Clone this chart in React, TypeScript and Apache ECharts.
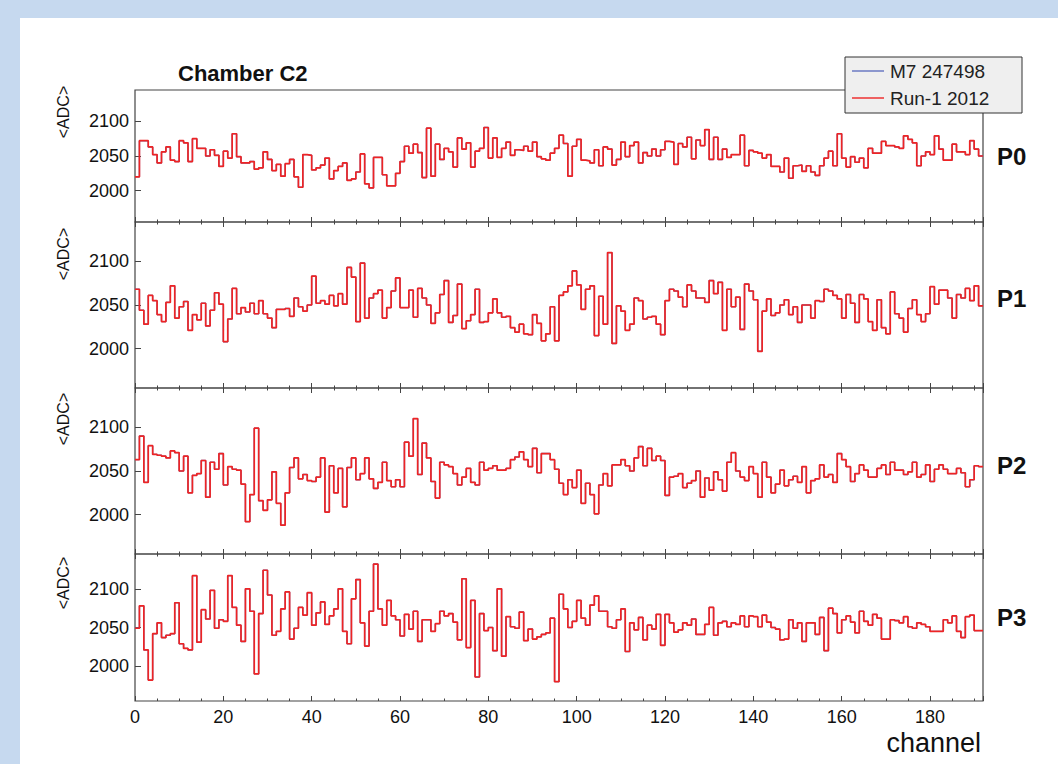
import React, { useEffect, useRef } from "react";
import * as echarts from "echarts";

const FONT = '"Liberation Sans", Arial, Helvetica, sans-serif';

// Mean ADC per channel, Chamber C2, planes P0..P3 (Run-1 2012)
const run1P0 = [
  2020, 2072, 2072, 2063, 2052, 2040, 2056, 2063, 2044, 2042,
  2072, 2069, 2042, 2075, 2061, 2061, 2050, 2059, 2051, 2035,
  2057, 2047, 2082, 2049, 2040, 2040, 2042, 2031, 2033, 2056,
  2045, 2029, 2038, 2021, 2039, 2045, 2020, 2005, 2052, 2051,
  2030, 2033, 2037, 2047, 2017, 2029, 2035, 2040, 2015, 2017,
  2027, 2053, 2010, 2004, 2048, 2048, 2023, 2007, 2007, 2025,
  2042, 2064, 2054, 2067, 2055, 2019, 2090, 2021, 2067, 2045,
  2061, 2056, 2034, 2076, 2060, 2069, 2034, 2057, 2061, 2091,
  2047, 2076, 2048, 2061, 2070, 2051, 2059, 2058, 2064, 2057,
  2070, 2049, 2046, 2044, 2054, 2061, 2080, 2068, 2021, 2064,
  2074, 2044, 2043, 2040, 2059, 2036, 2063, 2060, 2037, 2045,
  2070, 2049, 2065, 2070, 2040, 2055, 2050, 2060, 2050, 2059,
  2071, 2070, 2038, 2068, 2063, 2077, 2046, 2073, 2065, 2088,
  2045, 2077, 2045, 2060, 2048, 2052, 2052, 2080, 2036, 2058,
  2056, 2054, 2047, 2052, 2035, 2035, 2027, 2047, 2018, 2036,
  2037, 2028, 2036, 2027, 2022, 2036, 2047, 2057, 2036, 2082,
  2047, 2034, 2049, 2041, 2047, 2033, 2061, 2054, 2054, 2071,
  2065, 2065, 2063, 2061, 2079, 2074, 2069, 2036, 2050, 2056,
  2052, 2079, 2060, 2044, 2044, 2067, 2056, 2056, 2052, 2072,
  2060, 2050,
];
const run1P1 = [
  2068, 2044, 2028, 2061, 2055, 2039, 2031, 2053, 2072, 2035,
  2048, 2054, 2021, 2039, 2033, 2052, 2026, 2044, 2064, 2051,
  2008, 2034, 2069, 2040, 2047, 2042, 2052, 2040, 2055, 2040,
  2035, 2024, 2045, 2045, 2046, 2037, 2058, 2048, 2043, 2050,
  2083, 2052, 2055, 2051, 2061, 2049, 2063, 2051, 2093, 2082,
  2031, 2098, 2035, 2058, 2063, 2067, 2035, 2047, 2066, 2081,
  2047, 2047, 2067, 2036, 2069, 2058, 2050, 2029, 2041, 2062,
  2078, 2030, 2038, 2074, 2023, 2032, 2039, 2068, 2030, 2031,
  2041, 2057, 2041, 2036, 2037, 2024, 2019, 2028, 2017, 2016,
  2039, 2029, 2009, 2017, 2048, 2009, 2061, 2065, 2072, 2089,
  2073, 2045, 2068, 2072, 2015, 2060, 2028, 2110, 2006, 2049,
  2043, 2021, 2028, 2058, 2055, 2034, 2036, 2037, 2028, 2016,
  2055, 2068, 2066, 2059, 2048, 2073, 2066, 2058, 2058, 2053,
  2078, 2063, 2076, 2021, 2068, 2048, 2059, 2022, 2074, 2066,
  2056, 1997, 2043, 2057, 2038, 2041, 2050, 2056, 2039, 2048,
  2030, 2050, 2050, 2035, 2055, 2054, 2068, 2066, 2061, 2057,
  2035, 2062, 2052, 2030, 2062, 2057, 2031, 2021, 2056, 2024,
  2017, 2065, 2040, 2035, 2019, 2046, 2056, 2039, 2031, 2040,
  2071, 2051, 2067, 2067, 2058, 2035, 2062, 2058, 2069, 2055,
  2072, 2049,
];
const run1P2 = [
  2063, 2090, 2037, 2079, 2069, 2068, 2067, 2065, 2073, 2071,
  2050, 2067, 2025, 2045, 2047, 2062, 2020, 2060, 2052, 2070,
  2034, 2055, 2052, 2051, 2035, 1992, 2023, 2099, 2016, 2005,
  2017, 2049, 2013, 1988, 2025, 2054, 2065, 2041, 2046, 2039,
  2038, 2043, 2065, 2003, 2056, 2025, 2053, 2009, 2054, 2065,
  2040, 2047, 2065, 2041, 2030, 2037, 2060, 2039, 2032, 2040,
  2032, 2083, 2067, 2110, 2046, 2082, 2065, 2038, 2019, 2060,
  2057, 2055, 2047, 2034, 2043, 2053, 2037, 2034, 2060, 2051,
  2053, 2056, 2051, 2051, 2053, 2063, 2066, 2072, 2063, 2055,
  2076, 2048, 2070, 2070, 2063, 2052, 2036, 2023, 2040, 2031,
  2051, 2013, 2036, 2023, 2001, 2034, 2047, 2033, 2057, 2057,
  2063, 2056, 2050, 2065, 2078, 2056, 2076, 2062, 2067, 2062,
  2022, 2043, 2044, 2047, 2031, 2036, 2039, 2050, 2020, 2042,
  2028, 2049, 2040, 2027, 2060, 2071, 2050, 2043, 2039, 2055,
  2047, 2020, 2060, 2043, 2025, 2035, 2051, 2033, 2040, 2044,
  2037, 2055, 2025, 2039, 2041, 2057, 2043, 2046, 2037, 2070,
  2063, 2055, 2038, 2047, 2057, 2051, 2043, 2043, 2053, 2057,
  2046, 2060, 2051, 2051, 2046, 2049, 2060, 2043, 2046, 2057,
  2038, 2052, 2057, 2052, 2047, 2047, 2053, 2048, 2032, 2040,
  2056, 2055,
];
const run1P3 = [
  2049, 2078, 2021, 1982, 2042, 2056, 2037, 2040, 2042, 2082,
  2029, 2023, 2021, 2117, 2031, 2073, 2061, 2098, 2049, 2060,
  2058, 2117, 2076, 2053, 2032, 2100, 2071, 1990, 2068, 2124,
  2092, 2040, 2045, 2074, 2096, 2035, 2049, 2076, 2066, 2095,
  2053, 2069, 2083, 2054, 2065, 2074, 2100, 2045, 2029, 2087,
  2112, 2056, 2026, 2071, 2132, 2074, 2053, 2085, 2065, 2060,
  2039, 2067, 2048, 2071, 2032, 2060, 2060, 2045, 2055, 2071,
  2065, 2068, 2057, 2034, 2113, 2024, 2085, 1986, 2068, 2046,
  2050, 2020, 2100, 2013, 2064, 2051, 2049, 2070, 2033, 2048,
  2035, 2038, 2041, 2043, 2062, 1980, 2093, 2074, 2050, 2058,
  2085, 2062, 2053, 2079, 2091, 2071, 2071, 2051, 2049, 2060,
  2074, 2019, 2056, 2047, 2063, 2034, 2053, 2048, 2067, 2027,
  2067, 2056, 2044, 2047, 2056, 2053, 2061, 2041, 2041, 2054,
  2076, 2040, 2056, 2058, 2051, 2056, 2054, 2065, 2051, 2065,
  2064, 2051, 2066, 2057, 2050, 2048, 2034, 2035, 2060, 2049,
  2056, 2032, 2056, 2056, 2041, 2063, 2020, 2075, 2068, 2043,
  2060, 2065, 2057, 2043, 2071, 2058, 2053, 2067, 2062, 2035,
  2035, 2060, 2059, 2056, 2064, 2051, 2049, 2056, 2054, 2051,
  2045, 2045, 2045, 2060, 2056, 2065, 2045, 2037, 2064, 2066,
  2046, 2046,
];

// M7 247498 overlaps Run-1 2012 within the drawing resolution
const m7P0 = run1P0;
const m7P1 = run1P1;
const m7P2 = run1P2;
const m7P3 = run1P3;

const panelNames = ["P0", "P1", "P2", "P3"];
const seriesNames = ["M7 247498", "Run-1 2012"];
const yTickValues = [2000, 2050, 2100];
const xMax = 192;
const yMin = 1955;
const yMax = 2145;

const BLUE = "#6272c0";
const RED = "#ee2424";
const FRAME = "#444";

const gridRects = [
  { top: 90, height: 132 },
  { top: 222, height: 166 },
  { top: 388, height: 166 },
  { top: 554, height: 147 },
];
const adcCenters = [112, 254, 419, 583];
const panelLabelY = [156, 298, 465, 617];

function toSteps(arr: number[]) {
  const pts: number[][] = arr.map((v, c) => [c, v]);
  pts.push([arr.length, arr[arr.length - 1]]);
  return pts;
}

function buildOption() {
  const run1 = [run1P0, run1P1, run1P2, run1P3];
  const m7 = [m7P0, m7P1, m7P2, m7P3];
  const grids: any[] = [];
  const xAxes: any[] = [];
  const yAxes: any[] = [];
  const series: any[] = [];
  gridRects.forEach((g, i) => {
    grids.push({
      left: 135,
      width: 848,
      top: g.top,
      height: g.height,
      show: true,
      borderColor: FRAME,
      borderWidth: 1.2,
      backgroundColor: "transparent",
    });
    const common = {
      gridIndex: i,
      type: "value",
      min: 0,
      max: xMax,
      interval: 20,
      axisLine: { show: false },
      axisTick: { show: true, inside: true, length: 5, lineStyle: { color: FRAME, width: 1 } },
      minorTick: { show: true, splitNumber: 4, length: 2.5, lineStyle: { color: FRAME, width: 1 } },
      splitLine: { show: false },
      minorSplitLine: { show: false },
    };
    const bottomIndex = xAxes.length;
    xAxes.push({
      ...common,
      position: "bottom",
      axisLabel: {
        show: i === 3,
        margin: 7,
        fontSize: 18,
        fontFamily: FONT,
        color: "#111",
        formatter: (v: number) => (v > 180 ? "" : String(v)),
      },
    });
    if (i > 0) {
      xAxes.push({ ...common, position: "top", axisLabel: { show: false } });
    }
    yAxes.push({
      gridIndex: i,
      type: "value",
      min: yMin,
      max: yMax,
      axisLine: { show: false },
      axisTick: { show: true, inside: true, length: 6, customValues: yTickValues, lineStyle: { color: FRAME } },
      axisLabel: {
        customValues: yTickValues,
        margin: 6,
        fontSize: 18,
        fontFamily: FONT,
        color: "#111",
        formatter: (v: number) => String(v),
      },
      splitLine: { show: false },
    });
    series.push({
      name: seriesNames[0],
      type: "line",
      step: "end",
      symbol: "none",
      xAxisIndex: bottomIndex,
      yAxisIndex: i,
      data: toSteps(m7[i]),
      lineStyle: { color: BLUE, width: 1.4 },
      itemStyle: { color: BLUE },
      z: 3,
      silent: true,
    });
    series.push({
      name: seriesNames[1],
      type: "line",
      step: "end",
      symbol: "none",
      xAxisIndex: bottomIndex,
      yAxisIndex: i,
      data: toSteps(run1[i]),
      lineStyle: { color: RED, width: 1.7 },
      itemStyle: { color: RED },
      z: 4,
      silent: true,
    });
  });

  const graphics: any[] = [
    {
      type: "text",
      x: 178,
      y: 73,
      style: { text: "Chamber C2", fontSize: 22, fontWeight: "bold", fontFamily: FONT, fill: "#111", verticalAlign: "middle" },
    },
    {
      type: "text",
      x: 981,
      y: 743,
      style: { text: "channel", fontSize: 27, fontFamily: FONT, fill: "#111", align: "right", verticalAlign: "middle" },
    },
    {
      type: "rect",
      z: 100,
      shape: { x: 845, y: 57, width: 177, height: 56 },
      style: { fill: "#efefef", stroke: "#333", lineWidth: 1 },
    },
    {
      type: "line",
      z: 101,
      shape: { x1: 852, y1: 71, x2: 884, y2: 71 },
      style: { stroke: BLUE, lineWidth: 1.4 },
    },
    {
      type: "text",
      z: 101,
      x: 890,
      y: 71,
      style: { text: seriesNames[0], fontSize: 19, fontFamily: FONT, fill: "#222", verticalAlign: "middle" },
    },
    {
      type: "line",
      z: 101,
      shape: { x1: 852, y1: 98, x2: 884, y2: 98 },
      style: { stroke: RED, lineWidth: 1.4 },
    },
    {
      type: "text",
      z: 101,
      x: 890,
      y: 98,
      style: { text: seriesNames[1], fontSize: 19, fontFamily: FONT, fill: "#222", verticalAlign: "middle" },
    },
  ];
  panelNames.forEach((p, i) => {
    graphics.push({
      type: "text",
      x: 63,
      y: adcCenters[i],
      rotation: Math.PI / 2,
      style: { text: "<ADC>", fontSize: 16, fontFamily: FONT, fill: "#111", align: "center", verticalAlign: "middle" },
    });
    graphics.push({
      type: "text",
      x: 997,
      y: panelLabelY[i],
      style: { text: p, fontSize: 24, fontWeight: "bold", fontFamily: FONT, fill: "#111", verticalAlign: "middle" },
    });
  });

  return {
    animation: false,
    backgroundColor: "transparent",
    textStyle: { fontFamily: FONT },
    grid: grids,
    xAxis: xAxes,
    yAxis: yAxes,
    series,
    graphic: { elements: graphics },
  };
}

export default function App() {
  const ref = useRef<HTMLDivElement>(null);
  useEffect(() => {
    if (!ref.current) return;
    const chart = echarts.init(ref.current, null, { renderer: "svg" });
    chart.setOption(buildOption() as any);
    return () => chart.dispose();
  }, []);
  return (
    <div
      style={{
        position: "fixed",
        left: 0,
        top: 0,
        width: 1058,
        height: 764,
        background: "#c6d9ef",
        overflow: "hidden",
      }}
    >
      <div style={{ position: "absolute", left: 20, top: 18, right: 0, bottom: 0, background: "#ffffff" }} />
      <div ref={ref} style={{ position: "absolute", left: 0, top: 0, width: 1058, height: 764 }} />
    </div>
  );
}
